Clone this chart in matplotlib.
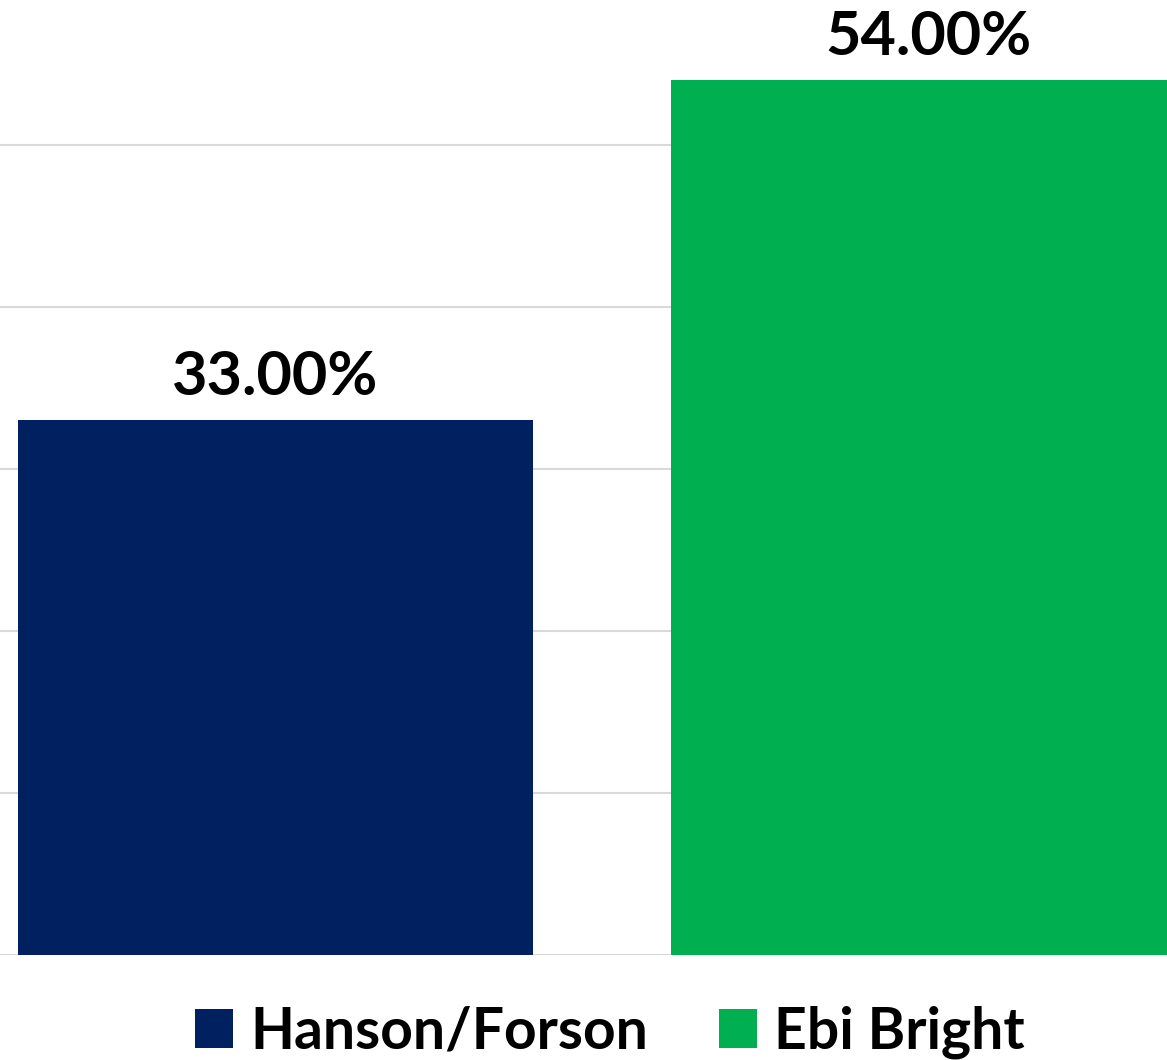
import matplotlib.pyplot as plt
from matplotlib.patches import Patch

# data
series = ["Hanson/Forson", "Ebi Bright"]
values = [0.33, 0.54]
colors = ["#002060", "#00B050"]
yticks = [0.0, 0.1, 0.2, 0.3, 0.4, 0.5, 0.6]

plt.rcParams['font.family'] = ['Lato', 'DejaVu Sans']

W, H = 1167, 1060
fig = plt.figure(figsize=(W / 100, H / 100), dpi=100)
# axes: baseline at y=955px, 10% = 162px; bars centred at 275.5px and 928.5px
ax = fig.add_axes([0, (H - 955) / H, 1, 162 * 6 / H])
ax.set_ylim(0, 0.6)
step = 653
ax.set_xlim(-275.5 / step, (W - 275.5) / step)

xs = list(range(len(series)))
bars = ax.bar(xs, values, width=515 / step, color=colors, zorder=3)

ax.set_yticks(yticks)
ax.yaxis.grid(True, color="#D9D9D9", linewidth=1.5, zorder=0)
ax.tick_params(left=False, bottom=False, labelleft=False, labelbottom=False)
for s in ax.spines.values():
    s.set_visible(False)

for x, v in zip(xs, values):
    ax.annotate(f"{v*100:.2f}%", (x, v), xytext=(0, 11), textcoords="offset points",
                ha="center", va="bottom", fontsize=44, fontweight="bold", color="black")

handles = [Patch(facecolor=c, edgecolor="none", label=s) for s, c in zip(series, colors)]
fig.legend(handles=handles, loc="center", bbox_to_anchor=(610 / W, 28 / H), ncol=2,
           frameon=False, prop={"weight": "bold", "size": 41},
           handlelength=0.67, handleheight=0.67, handletextpad=0.3,
           columnspacing=1.25, borderpad=0, borderaxespad=0)

fig.savefig("out.png", dpi=100)
